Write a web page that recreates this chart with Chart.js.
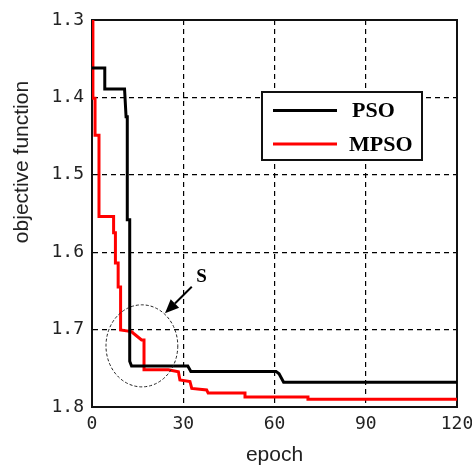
<!DOCTYPE html>
<html>
<head>
<meta charset="utf-8">
<script src="https://cdn.jsdelivr.net/npm/chart.js@4"></script>
<style>
  html, body { margin: 0; padding: 0; background: #fff; }
  #wrap { width: 472px; height: 468px; }
</style>
</head>
<body>
<div id="wrap"><canvas id="chart" width="472" height="468"></canvas></div>
<script>
'use strict';

// values (epoch, objective function)
var psoEpoch = [0, 4.2, 4.2, 10.7, 11.2, 11.6, 11.6, 12.4, 12.4, 13, 31.5, 32.5, 60.5, 61.5, 63, 120];
var psoValue = [1.362, 1.362, 1.389, 1.389, 1.425, 1.425, 1.558, 1.558, 1.741, 1.747, 1.747, 1.754, 1.754, 1.757, 1.768, 1.768];

var mpsoEpoch = [0.3, 0.3, 1.0, 1.0, 2.3, 2.3, 7.1, 7.1, 7.7, 7.7, 8.6, 8.6, 9.4, 9.4, 13.0, 13.6, 16.3, 17.1, 17.1,
  25.1, 28.4, 28.9, 32.2, 32.8, 37.7, 38.2, 50.3, 50.3, 71, 71, 120];
var mpsoValue = [1.300, 1.401, 1.401, 1.449, 1.449, 1.554, 1.554, 1.575, 1.575, 1.614, 1.614, 1.645, 1.645, 1.7005,
  1.7026, 1.7047, 1.7134, 1.7134, 1.752, 1.752, 1.7544, 1.765, 1.767, 1.776, 1.778, 1.782, 1.782, 1.787, 1.787, 1.790, 1.790];

var xTicks = [0, 30, 60, 90, 120];
var yTicks = [1.3, 1.4, 1.5, 1.6, 1.7, 1.8];

// annotation "S": ellipse around the crossing, arrow pointing at it
var circleCenter = [16.4, 1.721];
var circleRadius = [11.8, 0.053];
var arrowFrom = [32.8, 1.6446];
var arrowTo = [24.0, 1.679];
var labelS = [36.0, 1.6316];

function toPoints(xs, ys) {
  return xs.map(function(x, i) { return { x: x, y: ys[i] }; });
}

var overlay = {
  id: 'overlay',
  beforeDatasetsDraw: function(chart) {
    var a = chart.chartArea, ctx = chart.ctx;
    ctx.save();
    ctx.strokeStyle = '#111';
    ctx.lineWidth = 2;
    ctx.strokeRect(a.left, a.top, a.right - a.left, a.bottom - a.top);
    ctx.restore();
  },
  afterDatasetsDraw: function(chart) {
    var ctx = chart.ctx, xs = chart.scales.x, ys = chart.scales.y, a = chart.chartArea;
    ctx.save();

    // dashed ellipse
    var cx = xs.getPixelForValue(circleCenter[0]), cy = ys.getPixelForValue(circleCenter[1]);
    var rx = xs.getPixelForValue(circleCenter[0] + circleRadius[0]) - cx;
    var ry = ys.getPixelForValue(circleCenter[1] + circleRadius[1]) - cy;
    ctx.beginPath();
    ctx.setLineDash([3, 2]);
    ctx.lineWidth = 1;
    ctx.strokeStyle = '#222';
    ctx.ellipse(cx, cy, Math.abs(rx), Math.abs(ry), 0, 0, Math.PI * 2);
    ctx.stroke();
    ctx.setLineDash([]);

    // arrow
    var x1 = xs.getPixelForValue(arrowFrom[0]), y1 = ys.getPixelForValue(arrowFrom[1]);
    var x2 = xs.getPixelForValue(arrowTo[0]), y2 = ys.getPixelForValue(arrowTo[1]);
    var ang = Math.atan2(y2 - y1, x2 - x1);
    var hl = 14, hw = 6;
    var bx = x2 - hl * Math.cos(ang), by = y2 - hl * Math.sin(ang);
    ctx.strokeStyle = '#000';
    ctx.lineWidth = 2;
    ctx.beginPath();
    ctx.moveTo(x1, y1);
    ctx.lineTo(bx, by);
    ctx.stroke();
    ctx.fillStyle = '#000';
    ctx.beginPath();
    ctx.moveTo(x2, y2);
    ctx.lineTo(bx + hw * Math.sin(ang), by - hw * Math.cos(ang));
    ctx.lineTo(bx - hw * Math.sin(ang), by + hw * Math.cos(ang));
    ctx.closePath();
    ctx.fill();

    // S label
    ctx.font = 'bold 19px "Liberation Serif", serif';
    ctx.textAlign = 'center';
    ctx.textBaseline = 'middle';
    ctx.fillText('S', xs.getPixelForValue(labelS[0]), ys.getPixelForValue(labelS[1]));

    // legend box
    var lx = 262, ly = 92, lw = 160, lh = 68;
    ctx.fillStyle = '#fff';
    ctx.fillRect(lx, ly, lw, lh);
    ctx.strokeStyle = '#111';
    ctx.lineWidth = 2;
    ctx.strokeRect(lx, ly, lw, lh);
    var rows = [110.5, 144];
    chart.data.datasets.forEach(function(ds, i) {
      ctx.strokeStyle = ds.borderColor;
      ctx.lineWidth = 3;
      ctx.beginPath();
      ctx.moveTo(273, rows[i]);
      ctx.lineTo(337, rows[i]);
      ctx.stroke();
      ctx.fillStyle = '#000';
      ctx.font = 'bold 22px "Liberation Serif", serif';
      ctx.textAlign = 'left';
      ctx.textBaseline = 'middle';
      ctx.fillText(ds.label, i === 0 ? 352 : 349, rows[i] + 1);
    });

    // axis titles
    ctx.fillStyle = '#222';
    ctx.font = '21px "Liberation Sans", sans-serif';
    ctx.textAlign = 'center';
    ctx.textBaseline = 'middle';
    ctx.fillText('epoch', (a.left + a.right) / 2, 455);
    ctx.translate(22, 162);
    ctx.rotate(-Math.PI / 2);
    ctx.fillText('objective function', 0, 0);
    ctx.restore();
  }
};

var gridOpts = { color: '#000', lineWidth: 1.2, drawTicks: false };
var tickFont = { family: '"DejaVu Sans Mono", monospace', size: 18 };

new Chart(document.getElementById('chart'), {
  type: 'line',
  data: {
    datasets: [{
      label: 'PSO',
      data: toPoints(psoEpoch, psoValue),
      borderColor: '#000',
      borderWidth: 3,
      pointRadius: 0,
      tension: 0
    }, {
      label: 'MPSO',
      data: toPoints(mpsoEpoch, mpsoValue),
      borderColor: '#ff0000',
      borderWidth: 3,
      pointRadius: 0,
      tension: 0
    }]
  },
  options: {
    responsive: false,
    animation: false,
    layout: { padding: { top: 20, right: 15, left: 0, bottom: 0 } },
    plugins: { legend: { display: false }, tooltip: { enabled: false } },
    scales: {
      x: {
        type: 'linear',
        min: 0, max: 120,
        afterFit: function(s) { s.height = 61; s.paddingLeft = 0; s.paddingRight = 0; },
        afterBuildTicks: function(s) { s.ticks = xTicks.map(function(v) { return { value: v }; }); },
        ticks: { color: '#222', font: tickFont, padding: 7, maxRotation: 0 },
        grid: gridOpts,
        border: { display: true, color: '#111', width: 2, dash: [5, 4] }
      },
      y: {
        type: 'linear',
        reverse: true,
        min: 1.3, max: 1.8,
        afterFit: function(s) { s.width = 92; s.paddingTop = 0; s.paddingBottom = 0; },
        afterBuildTicks: function(s) { s.ticks = yTicks.map(function(v) { return { value: v }; }); },
        ticks: { color: '#222', font: tickFont, padding: 8, callback: function(v) { return v.toFixed(1); } },
        grid: gridOpts,
        border: { display: true, color: '#333', width: 2, dash: [5, 4] }
      }
    }
  },
  plugins: [overlay]
});
</script>
</body>
</html>
